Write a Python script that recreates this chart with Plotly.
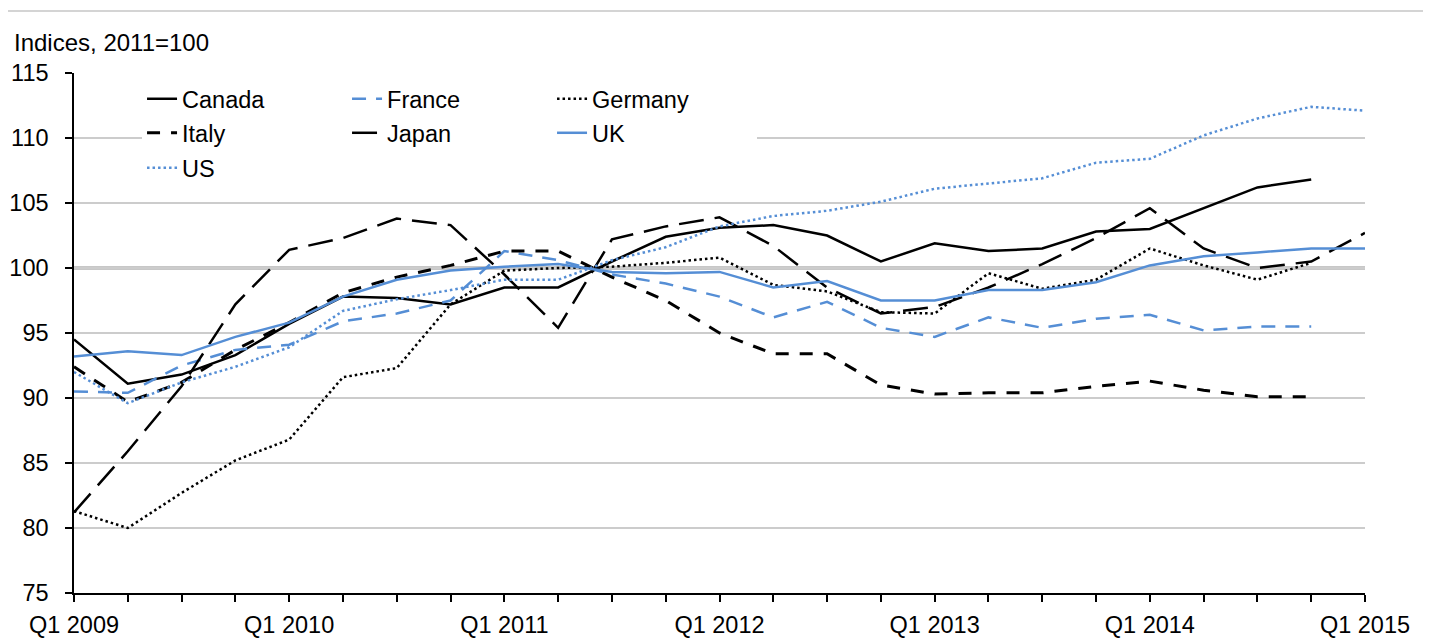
import plotly.graph_objects as go

# ---------------- data ----------------
quarters = [f"Q{q} {y}" for y in range(2009, 2016) for q in range(1, 5)][:25]
tick_text = [q if q.startswith("Q1") else "" for q in quarters]

canada = [94.5, 91.1, 91.8, 93.3, 95.7, 97.8, 97.7, 97.2, 98.5, 98.5, 100.5, 102.4, 103.1,
          103.3, 102.5, 100.5, 101.9, 101.3, 101.5, 102.8, 103.0, 104.6, 106.2, 106.8, None]
france = [90.5, 90.4, 92.5, 93.7, 94.1, 95.9, 96.5, 97.5, 101.3, 100.6, 99.5, 98.8, 97.8,
          96.2, 97.4, 95.4, 94.7, 96.2, 95.4, 96.1, 96.4, 95.2, 95.5, 95.5, None]
germany = [81.3, 80.0, 82.7, 85.2, 86.8, 91.6, 92.3, 97.2, 99.8, 100.0, 100.1, 100.4, 100.8,
           98.7, 98.2, 96.6, 96.5, 99.6, 98.4, 99.1, 101.5, 100.2, 99.1, 100.4, None]
italy = [92.4, 89.7, 91.2, 93.7, 95.8, 98.1, 99.3, 100.2, 101.3, 101.3, 99.3, 97.5, 95.0,
         93.4, 93.4, 91.0, 90.3, 90.4, 90.4, 90.9, 91.3, 90.6, 90.1, 90.1, None]
japan = [81.2, 85.9, 90.9, 97.2, 101.4, 102.3, 103.8, 103.3, 99.5, 95.4, 102.2, 103.2, 103.9,
         101.7, 98.5, 96.5, 97.0, 98.5, 100.3, 102.3, 104.6, 101.5, 100.0, 100.5, 102.7]
uk = [93.2, 93.6, 93.3, 94.7, 95.8, 97.8, 99.1, 99.8, 100.1, 100.3, 99.7, 99.6, 99.7,
      98.5, 99.0, 97.5, 97.5, 98.3, 98.3, 98.9, 100.2, 100.9, 101.2, 101.5, 101.5]
us = [92.0, 89.6, 91.2, 92.4, 93.9, 96.7, 97.6, 98.3, 99.1, 99.1, 100.6, 101.6, 103.2,
      104.0, 104.4, 105.1, 106.1, 106.5, 106.9, 108.1, 108.4, 110.2, 111.5, 112.4, 112.1]

y_ticks = [75, 80, 85, 90, 95, 100, 105, 110, 115]

BLUE = "#558ED5"
BLACK = "#000000"

# legend row 1 -> "legend2", row 2 -> "legend" (white box, drawn first), row 3 -> "legend3"
series = [
    ("Canada", canada, BLACK, None, 2.5, "legend2"),
    ("France", france, BLUE, "14px,10px", 2.5, "legend2"),
    ("Germany", germany, BLACK, "2.5px,3px", 2.5, "legend2"),
    ("Italy", italy, BLACK, "13px,11px", 3, "legend"),
    ("Japan", japan, BLACK, "25px,11px", 2.5, "legend"),
    ("UK", uk, BLUE, None, 2.5, "legend"),
    ("US", us, BLUE, "2.5px,3px", 2.5, "legend3"),
]

fig = go.Figure()
for name, vals, color, dash, w, lg in series:
    line = dict(color=color, width=w)
    if dash:
        line["dash"] = dash
    fig.add_trace(go.Scatter(x=quarters, y=vals, name=name, mode="lines",
                             line=line, legend=lg, connectgaps=False))

FONT = "Liberation Sans, Arial, sans-serif"
FS = 23.5

def legend_cfg(y, bg):
    return dict(x=0.0527, y=y, xanchor="left", yanchor="middle", orientation="h",
                entrywidth=160, entrywidthmode="pixels", bgcolor=bg,
                borderwidth=0, font=dict(family=FONT, size=FS, color="black"),
                tracegroupgap=0)

fig.update_layout(
    width=1423, height=635,
    margin=dict(l=66, r=66, t=65, b=50),
    paper_bgcolor="white", plot_bgcolor="white",
    font=dict(family=FONT, size=FS, color="black"),
    showlegend=True,
    legend2=legend_cfg(0.95, "rgba(0,0,0,0)"),
    legend=legend_cfg(0.8846, "white"),
    legend3=legend_cfg(0.8173, "rgba(0,0,0,0)"),
    xaxis=dict(type="category", range=[0, 24], tickmode="array",
               tickvals=quarters, ticktext=tick_text, ticks="outside",
               ticklen=7, tickwidth=1.5, tickcolor="black", showline=True,
               linecolor="black", linewidth=1.5, showgrid=False, zeroline=False,
               tickangle=0, ticklabelstandoff=3, automargin=False),
    yaxis=dict(range=[75, 115], tickmode="array", tickvals=y_ticks,
               ticks="outside", ticklen=7, tickwidth=1.5, tickcolor="black",
               showline=True, linecolor="black", linewidth=1.5,
               showgrid=True, gridcolor="#CCCCCC", gridwidth=2, zeroline=False,
               ticklabelstandoff=12, automargin=False),
    annotations=[dict(text="Indices, 2011=100", xref="paper", yref="paper",
                      x=-0.048, y=1.0596, xanchor="left", yanchor="middle",
                      showarrow=False, font=dict(family=FONT, size=24, color="black"))],
    shapes=[
        dict(type="line", xref="paper", yref="y", x0=0, x1=1, y0=100, y1=100,
             line=dict(color="#B4B4B4", width=3.5), layer="below"),
        dict(type="rect", xref="paper", yref="paper", x0=-0.0519, x1=1.08,
             y0=-0.12, y1=1.119, line=dict(color="#D4D4D4", width=2),
             fillcolor="rgba(0,0,0,0)", layer="below"),
    ],
)

fig.write_html("out.html")
